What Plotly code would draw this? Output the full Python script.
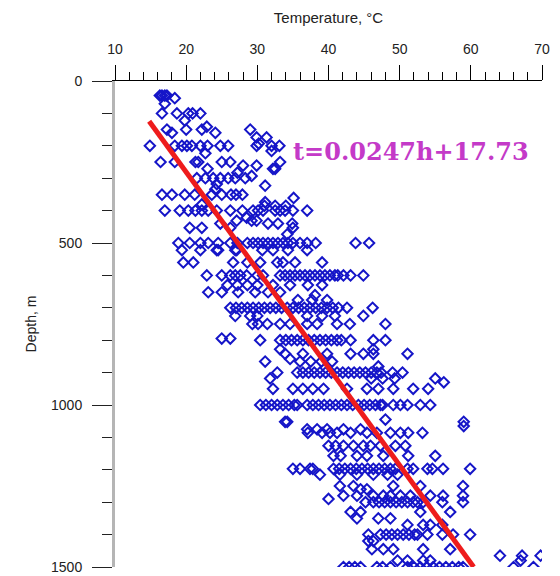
import plotly.graph_objects as go

# Depth levels (m) and the temperatures (°C) read at each level
depth_levels = [
    45, 53, 70, 100, 122, 141, 150, 160, 174, 193, 200, 216, 223, 250, 261, 271, 283, 293,
    300, 318, 323, 334, 351, 361, 374, 381, 385, 400, 422, 431, 440, 453, 473, 500, 522,
    560, 600, 630, 652, 661, 676, 700, 725, 750, 795, 800, 828, 842, 858, 866, 881, 900,
    918, 930, 950, 1000, 1045, 1052, 1065, 1075, 1086, 1126, 1157, 1197, 1215, 1250, 1260,
    1280, 1290, 1300, 1330, 1350, 1370, 1400, 1420, 1445, 1465, 1480, 1500,
]

temps_at_level = [
    [16.3, 16.6, 17.0, 17.3],
    [18.4],
    [17.0],
    [16.6, 18.7, 20.3, 20.9, 22.0],
    [19.8],
    [22.9],
    [17.3, 20.0, 22.2, 29.0],
    [18.0, 24.1],
    [29.9, 31.3],
    [30.2],
    [14.9, 18.4, 19.4, 20.1, 20.8, 22.0, 23.0, 24.8, 25.9, 29.9, 32.0, 33.1],
    [32.0],
    [22.7],
    [16.4, 18.4, 21.3, 21.7, 25.0, 26.2, 33.2],
    [28.0, 29.9],
    [23.0, 32.2, 32.5],
    [27.2],
    [29.2],
    [21.5, 22.7, 23.8, 24.8, 25.9, 26.9, 28.3],
    [24.3],
    [31.1],
    [24.1],
    [16.6, 18.0, 19.8, 21.2, 23.6, 25.0, 26.3, 27.0, 27.9],
    [35.1],
    [31.1],
    [22.2],
    [31.0, 32.5, 34.0],
    [17.0, 19.1, 20.3, 21.3, 22.2, 23.1, 24.3, 26.2, 27.9, 29.4, 30.1, 30.8, 32.5, 33.2, 33.9, 35.0, 37.0],
    [28.5],
    [27.1, 29.2, 29.9],
    [24.8, 31.5, 32.9, 34.9],
    [20.5, 22.2, 26.2, 35.0],
    [34.2],
    [18.9, 20.5, 22.0, 23.1, 24.5, 26.2, 27.2, 28.6, 29.4, 30.1, 30.8, 31.5, 32.2, 32.9, 33.6, 34.3,
     35.0, 36.0, 37.0, 38.2, 43.8, 45.7],
    [19.4, 22.0, 24.3, 24.5, 26.9, 27.1, 30.7, 32.2, 34.3, 37.0],
    [19.6, 21.0, 26.6, 28.6, 30.4, 32.8, 33.6, 35.3, 39.1],
    [22.9, 25.0, 26.2, 26.9, 27.6, 28.5, 30.0, 30.8, 33.2, 33.9, 34.6, 35.3, 36.0, 36.7, 37.4, 38.1,
     38.8, 39.5, 40.2, 40.9, 41.3, 42.1, 43.1, 44.9],
    [25.8, 27.2, 28.6, 30.0, 32.2, 34.6, 37.1, 39.1],
    [23.1, 25.0, 27.3, 29.7, 31.5, 33.2],
    [38.1],
    [35.7, 37.7, 39.8],
    [26.2, 27.0, 27.8, 28.6, 29.4, 30.2, 31.0, 31.8, 32.6, 33.4, 34.2, 35.0, 35.8, 36.6, 37.4, 38.2,
     39.0, 39.8, 40.6, 41.4, 42.6, 46.2],
    [26.9, 29.0, 30.0, 37.0, 39.1, 40.9, 44.9],
    [29.3, 30.1, 31.4, 33.2, 34.6, 37.0, 38.4, 41.2, 43.0, 48.0],
    [25.0, 26.2],
    [30.4, 33.2, 34.0, 34.8, 35.6, 36.4, 37.2, 38.0, 38.8, 39.6, 40.4, 41.2, 41.8, 43.1, 46.3, 48.0],
    [33.2, 46.3],
    [33.9, 36.4, 39.8, 43.1, 44.9, 46.3, 51.1],
    [34.6],
    [31.1, 36.0, 37.5, 39.0, 40.5],
    [47.0],
    [32.8, 35.6, 36.4, 37.2, 38.0, 38.8, 39.6, 40.4, 41.2, 42.0, 42.8, 43.6, 44.4, 45.2, 46.0, 46.8,
     47.4, 49.0, 50.4],
    [31.8, 46.0, 47.6, 49.3, 55.0],
    [56.2],
    [32.2, 35.0, 36.4, 37.8, 39.3, 42.6, 45.4, 47.0, 49.1, 51.9, 54.0],
    [30.4, 31.2, 32.0, 32.8, 33.6, 34.4, 35.2, 35.6, 37.0, 37.8, 38.6, 39.4, 40.2, 41.0, 41.8, 42.6,
     43.4, 44.2, 45.0, 45.8, 46.6, 47.3, 47.6, 49.1, 50.1, 51.1, 52.9, 54.3],
    [48.0],
    [33.9, 34.2, 59.0],
    [59.0],
    [37.0, 38.4, 39.8, 42.1, 44.5],
    [37.1, 39.1, 40.2, 41.2, 43.1, 45.4, 46.8, 48.7, 50.1, 51.2, 53.2],
    [40.0, 41.0, 42.1, 43.5, 44.9, 45.9, 47.3, 49.4, 50.8],
    [40.7, 41.7, 44.0, 45.4, 47.7, 51.2, 55.0],
    [35.0, 36.0, 37.4, 37.8, 40.7, 41.5, 42.3, 43.1, 43.9, 44.7, 45.5, 46.3, 47.1, 47.9, 48.7, 49.4,
     51.1, 51.9, 53.9, 54.6, 56.1, 59.9],
    [38.8, 41.6, 44.0, 46.3, 48.3, 49.7],
    [41.6, 43.5, 49.1, 52.9, 58.9],
    [44.5, 45.4],
    [42.1, 44.0, 46.3, 47.7, 48.7, 50.1, 51.5, 54.3, 56.1, 58.9],
    [40.0],
    [45.2, 46.3, 47.1, 47.9, 48.7, 49.5, 50.3, 51.1, 51.9, 52.5, 53.3, 56.0, 58.9],
    [43.1, 44.5, 52.9, 57.1],
    [44.0, 47.0, 48.7],
    [51.1, 53.3, 54.3, 56.0],
    [45.6, 47.3, 48.1, 48.9, 49.7, 50.5, 51.3, 52.1, 52.5, 53.9, 56.0, 57.5, 59.9],
    [45.6, 46.3],
    [46.1, 47.7, 49.1, 53.3, 57.1],
    [64.1, 67.2, 69.8],
    [49.7, 51.1, 53.3, 54.3, 67.0],
    [42.1, 42.9, 43.7, 44.5, 46.8, 47.6, 48.7, 51.1, 52.0, 52.9, 53.8, 54.7, 55.6, 56.5, 57.4, 58.3,
     58.9, 66.0, 68.8],
]

# Fitted trend line as drawn (end points)
line_temp = [14.8, 60.4]
line_depth = [124, 1500]

equation_text = "t=0.0247h+17.73"
equation_pos = (34.8, 217)

x_title = "Temperature, \u00b0C"
y_title = "Depth, m"

temperature = []
depth = []
for d, ts in zip(depth_levels, temps_at_level):
    for t in ts:
        temperature.append(t)
        depth.append(d)

fig = go.Figure()
fig.add_trace(go.Scatter(
    x=temperature, y=depth, mode="markers",
    marker=dict(symbol="diamond-open", size=8, color="#1515c8",
                line=dict(width=2, color="#1515c8")),
    showlegend=False, hoverinfo="skip",
))
fig.add_trace(go.Scatter(
    x=line_temp, y=line_depth, mode="lines",
    line=dict(color="#ee1c1c", width=5),
    showlegend=False, hoverinfo="skip",
))

fig.add_annotation(
    x=equation_pos[0], y=equation_pos[1], xref="x", yref="y",
    text="<b>" + equation_text + "</b>", showarrow=False,
    xanchor="left", yanchor="middle",
    font=dict(family="DejaVu Serif", size=24, color="#c43ac8"),
)

axis_font = dict(family="Liberation Sans, Arial, sans-serif", size=14, color="#222")

fig.update_layout(
    width=560, height=576,
    margin=dict(l=115, r=18, t=81, b=9, autoexpand=False),
    paper_bgcolor="white", plot_bgcolor="white",
    xaxis=dict(
        range=[10, 70], side="top", dtick=10, tick0=10, automargin=False,
        showline=True, linecolor="black", linewidth=1,
        ticks="outside", ticklen=15, tickwidth=1, tickcolor="black",
        minor=dict(dtick=2, ticks="outside", ticklen=8, tickcolor="black", tickwidth=1),
        showgrid=False, zeroline=False,
        tickfont=axis_font, ticklabelstandoff=5, ticklabeloverflow="allow",
        title=dict(text=x_title, font=dict(family="Liberation Sans, Arial, sans-serif", size=15, color="#222"),
                   standoff=14),
    ),
    yaxis=dict(
        range=[1500, 0], dtick=500, tick0=0, automargin=False,
        showline=True, linecolor="#b5b5b5", linewidth=3,
        ticks="outside", ticklen=20, tickwidth=1, tickcolor="#222",
        minor=dict(dtick=100, ticks="outside", ticklen=10, tickcolor="#222", tickwidth=1),
        showgrid=False, zeroline=False,
        tickfont=axis_font, ticklabelstandoff=7, ticklabeloverflow="allow",
        title=dict(text=y_title, font=dict(family="Liberation Sans, Arial, sans-serif", size=14, color="#222"),
                   standoff=12),
    ),
)

fig.write_html("out.html", config={"displayModeBar": False},
               post_script="document.body.style.margin='0';")
